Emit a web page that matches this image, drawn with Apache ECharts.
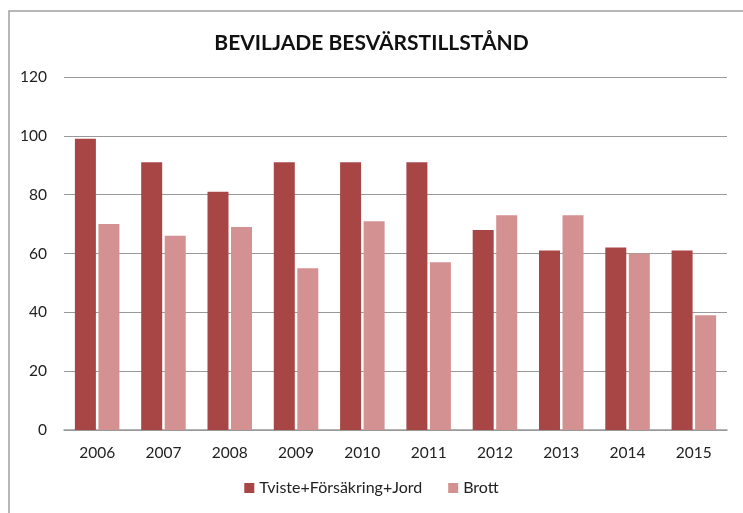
<!DOCTYPE html>
<html><head><meta charset="utf-8">
<script src="https://cdn.jsdelivr.net/npm/echarts@6/dist/echarts.min.js"></script>
<style>html,body{margin:0;padding:0;background:#fff}#c{width:743px;height:513px}</style>
</head><body><div id="c"></div>
<script>
const titleText = 'BEVILJADE BESVÄRSTILLSTÅND';
const years = ['2006','2007','2008','2009','2010','2011','2012','2013','2014','2015'];
const seriesNames = ['Tviste+Försäkring+Jord','Brott'];
const tviste = [99,91,81,91,91,91,68,61,62,61];
const brott = [70,66,69,55,71,57,73,73,60,39];
const colors = ['#A84646','#D39192'];
const font = 'Lato, "Open Sans", sans-serif';
const chart = echarts.init(document.getElementById('c'));
chart.setOption({
  animation:false,
  backgroundColor:'#fff',
  graphic:[{type:'rect',shape:{x:9,y:11,width:760,height:520},style:{fill:'none',stroke:'#a0a0a0',lineWidth:1.5},silent:true}],
  title:{text:titleText,left:'center',top:28,textStyle:{fontFamily:font,fontWeight:'bold',fontSize:21,color:'#111'}},
  legend:{bottom:12,left:'center',itemWidth:10,itemHeight:10,itemGap:26,icon:'rect',
    textStyle:{fontFamily:font,fontSize:16,color:'#222'},data:seriesNames},
  grid:{left:64,right:16,top:77,bottom:83},
  xAxis:{type:'category',data:years,axisTick:{show:false},
    axisLine:{lineStyle:{color:'#999',width:1.5}},
    axisLabel:{fontFamily:font,fontSize:15.5,color:'#222',margin:15}},
  yAxis:{type:'value',min:0,max:120,interval:20,
    axisLine:{show:false},axisTick:{show:false},
    splitLine:{lineStyle:{color:'#999',width:1.2}},
    axisLabel:{fontFamily:font,fontSize:15.5,color:'#222',margin:17}},
  series:[
    {name:seriesNames[0],type:'bar',data:tviste,itemStyle:{color:colors[0]},barWidth:21,barGap:'12%'},
    {name:seriesNames[1],type:'bar',data:brott,itemStyle:{color:colors[1]},barWidth:21,barGap:'12%'}
  ]
});
</script></body></html>
